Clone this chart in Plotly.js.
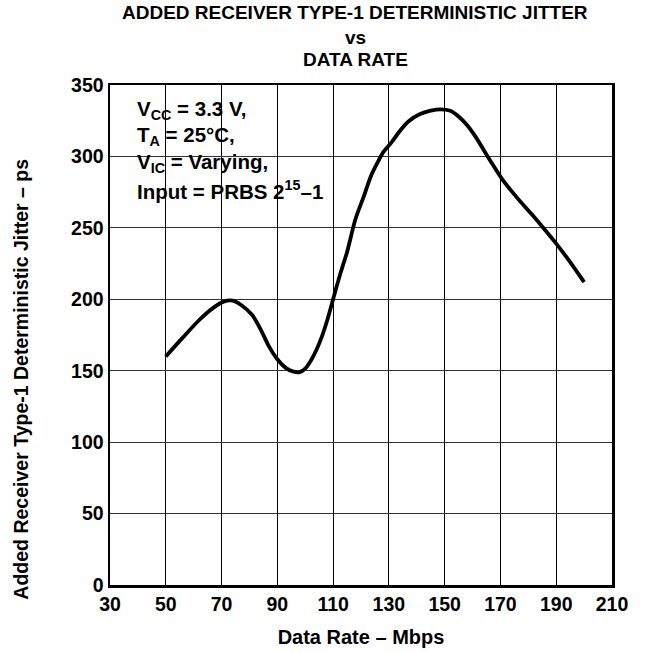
<!DOCTYPE html>
<html>
<head>
<meta charset="utf-8">
<script src="https://cdn.plot.ly/plotly-3.0.1.min.js"></script>
<style>html,body{margin:0;padding:0;background:#fff;}#chart{width:648px;height:652px;}</style>
</head>
<body>
<div id="chart"></div>
<script>
// Data rate (Mbps)
const dataRate = [50, 56, 62, 67, 71, 74, 77, 81, 84, 87, 90, 93, 95.5, 98, 100, 102, 104, 106, 108, 110,
  112.6, 115, 118, 121, 123.5, 126, 128, 131, 134, 137, 141, 145, 148.5, 152, 155, 158, 161, 164, 167,
  171, 176, 181, 186, 190, 195, 200];
// Added receiver type-1 deterministic jitter (ps)
const jitter = [160, 173, 185.5, 194, 198.5, 199, 196, 189, 179, 167, 158, 152, 149.5, 149, 151.5, 157, 164.5, 174, 186, 200,
  218, 233, 256, 272, 286, 296, 303, 310, 318, 324.5, 329.5, 332, 333, 332, 328, 322, 314, 304.5, 295,
  283, 271, 260, 248.5, 239, 226, 212];
const xTicks = [30, 50, 70, 90, 110, 130, 150, 170, 190, 210];
const yTicks = [0, 50, 100, 150, 200, 250, 300, 350];
const titleLines = ['ADDED RECEIVER TYPE-1 DETERMINISTIC JITTER', 'vs', 'DATA RATE'];
const conditions = ['V<sub>CC</sub> = 3.3 V,', 'T<sub>A</sub> = 25°C,', 'V<sub>IC</sub> = Varying,', 'Input = PRBS 2<sup>15</sup>–1'];
const xTitle = 'Data Rate – Mbps';
const yTitle = 'Added Receiver Type-1 Deterministic Jitter – ps';

const FONT = 'Liberation Sans, Arial, Helvetica, sans-serif';
const condY = [0.9506, 0.898, 0.844, 0.7906];
const titleY = [1.145, 1.095, 1.051];

const trace = {
  x: dataRate, y: jitter, type: 'scatter', mode: 'lines',
  line: {color: '#000', width: 3.8, shape: 'spline', smoothing: 0.8},
  hoverinfo: 'skip'
};

const bold = (size) => ({family: FONT, size: size, color: '#000', weight: 'bold'});

const annotations = conditions.map((t, i) => ({
  text: t, xref: 'paper', yref: 'paper', x: 0.0507, y: condY[i],
  xanchor: 'left', yanchor: 'middle', showarrow: false, align: 'left',
  font: bold(20.5)
}));
titleLines.forEach((t, i) => annotations.push({
  text: t, xref: 'paper', yref: 'paper', x: 0.4886, y: titleY[i],
  xanchor: 'center', yanchor: 'middle', showarrow: false, font: bold(19)
}));
annotations.push({
  text: yTitle, xref: 'paper', yref: 'paper', x: -0.178, y: 0.412,
  xanchor: 'center', yanchor: 'middle', textangle: -90, showarrow: false, font: bold(19.5)
});

const layout = {
  width: 648, height: 652,
  margin: {l: 109.5, r: 36, t: 85, b: 67},
  paper_bgcolor: '#fff', plot_bgcolor: '#fff',
  showlegend: false,
  xaxis: {
    range: [30, 210], tickvals: xTicks, ticktext: xTicks.map(String),
    showgrid: true, gridcolor: '#000', gridwidth: 1,
    showline: true, linecolor: '#000', linewidth: 2.5, mirror: true,
    zeroline: false, ticks: '',
    tickfont: bold(19.5),
    title: {text: xTitle, font: bold(20), standoff: 16}
  },
  yaxis: {
    range: [0, 350], tickvals: yTicks, ticktext: yTicks.map(String),
    showgrid: true, gridcolor: '#333', gridwidth: 1.2,
    showline: true, linecolor: '#000', linewidth: 2.5, mirror: true,
    zeroline: false, ticks: '',
    tickfont: bold(19.5)
  },
  shapes: [{
    type: 'rect', xref: 'paper', yref: 'paper', layer: 'between',
    x0: 0.023, x1: 0.477, y0: 0.76, y1: 0.978,
    fillcolor: '#fff', line: {width: 0}
  }],
  annotations: annotations
};

Plotly.newPlot('chart', [trace], layout, {displayModeBar: false, staticPlot: true});
</script>
</body>
</html>
